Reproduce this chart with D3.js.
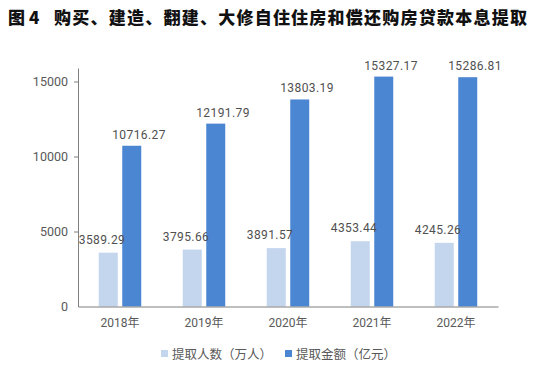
<!DOCTYPE html>
<html>
<head>
<meta charset="utf-8">
<script src="https://cdn.jsdelivr.net/npm/d3@7"></script>
<style>
  body { margin: 0; background: #fff; }
  text { font-family: Roboto, "Noto Sans CJK SC", sans-serif; }
</style>
</head>
<body>
<div id="chart-area"></div>
<script>
// data
const years = ["2018年", "2019年", "2020年", "2021年", "2022年"];
const people = [3589.29, 3795.66, 3891.57, 4353.44, 4245.26];   // 提取人数（万人）
const amount = [10716.27, 12191.79, 13803.19, 15327.17, 15286.81]; // 提取金额（亿元）
const yTicks = [0, 5000, 10000, 15000];
const seriesNames = ["提取人数（万人）", "提取金额（亿元）"];
const colors = ["#c4d5ee", "#4b86d2"];

let svg = d3.select("#chart-area").append("svg")
	.attr("width", 535)
	.attr("height", 374)

// title
svg.append("text")
	.attr("x", 8).attr("y", 24)
	.attr("font-size", 17).attr("font-weight", 900)
	.attr("fill", "#111")
	.style("font-family", "'Noto Sans CJK SC'")
	.text("图 4");
svg.append("text")
	.attr("x", 54).attr("y", 24)
	.attr("font-size", 17).attr("font-weight", 900)
	.attr("fill", "#111")
	.attr("textLength", 473).attr("lengthAdjust", "spacing")
	.style("font-family", "'Noto Sans CJK SC'")
	.text("购买、建造、翻建、大修自住住房和偿还购房贷款本息提取");

let x = d3.scaleBand().domain(years).range([78, 498]);
let y = d3.scaleLinear().domain([0, 15900]).range([306.5, 68]);

let barW = 19, gap = 4.5;

// y axis
let yAxis = svg.append("g")
	.attr("transform", "translate(78,0)")
	.call(d3.axisLeft(y).tickValues(yTicks).tickSize(4).tickSizeOuter(0).tickFormat(d3.format("d")));
yAxis.select(".domain").attr("stroke", "#7f7f7f");
yAxis.selectAll(".tick line").attr("stroke", "#7f7f7f")
	.filter(d => d === 0).remove();
yAxis.selectAll(".tick text")
	.attr("x", -10)
	.attr("fill", "#595959").attr("font-size", 12.5)
	.style("font-family", "Roboto");

// bars
let groups = svg.selectAll(".yr")
	.data(years)
	.enter().append("g")
	.attr("class", "yr");

groups.append("rect")
	.attr("x", (d) => x(d) + x.bandwidth() / 2 - gap / 2 - barW)
	.attr("y", (d, i) => y(people[i]))
	.attr("width", barW)
	.attr("height", (d, i) => y(0) - y(people[i]))
	.attr("fill", colors[0]);

groups.append("rect")
	.attr("x", (d) => x(d) + x.bandwidth() / 2 + gap / 2)
	.attr("y", (d, i) => y(amount[i]))
	.attr("width", barW)
	.attr("height", (d, i) => y(0) - y(amount[i]))
	.attr("fill", colors[1]);

// value labels
groups.append("text")
	.attr("x", (d) => x(d) + x.bandwidth() / 2 - 18)
	.attr("y", (d, i) => y(people[i]) - 9)
	.attr("text-anchor", "middle")
	.attr("font-size", 12).attr("fill", "#505050")
	.attr("letter-spacing", 0.4)
	.text((d, i) => people[i].toFixed(2));

groups.append("text")
	.attr("x", (d) => x(d) + x.bandwidth() / 2 + 19)
	.attr("y", (d, i) => y(amount[i]) - 7)
	.attr("text-anchor", "middle")
	.attr("font-size", 12).attr("fill", "#505050")
	.attr("letter-spacing", 0.4)
	.text((d, i) => amount[i].toFixed(2));

// x axis
let xAxis = svg.append("g")
	.attr("transform", "translate(0,306.5)")
	.call(d3.axisBottom(x).tickSize(0).tickSizeOuter(0));
xAxis.select(".domain").attr("stroke", "#7f7f7f");
xAxis.selectAll(".tick text")
	.attr("dy", 0).attr("y", 20.5)
	.attr("fill", "#595959").attr("font-size", 12);

// legend
let legend = svg.selectAll(".lg")
	.data(seriesNames)
	.enter().append("g")
	.attr("class", "lg")
	.attr("transform", (d, i) => "translate(" + (161 + i * 124) + ",354)");

legend.append("rect")
	.attr("x", 0).attr("y", -4)
	.attr("width", 7).attr("height", 7)
	.attr("fill", (d, i) => colors[i]);

legend.append("text")
	.attr("x", 11).attr("y", 4.5)
	.attr("font-size", 12.5).attr("fill", "#595959")
	.text((d) => d);
</script>
</body>
</html>
